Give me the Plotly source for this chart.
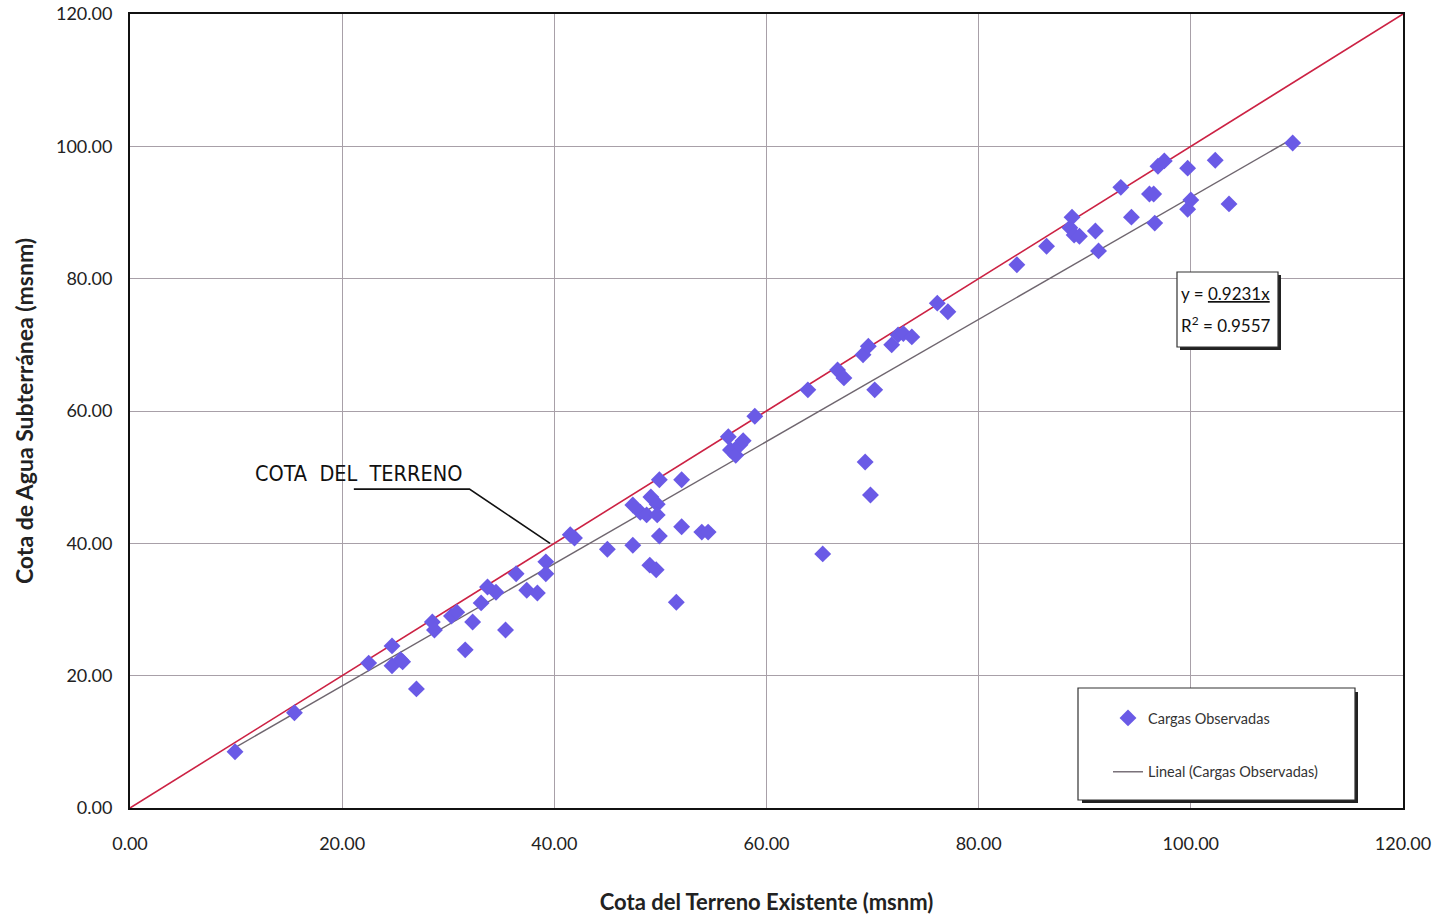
import plotly.graph_objects as go

# ---- data ----
x_terreno = [9.9, 15.5, 22.5, 24.7, 24.7, 25.5, 25.7, 27.0, 28.5, 28.7, 30.3, 30.8,
             31.6, 32.3, 33.1, 33.7, 34.5, 35.4, 36.4, 37.4, 38.4, 39.2, 39.2, 41.5,
             41.9, 45.0, 47.4, 47.4, 48.1, 48.7, 49.1, 49.0, 49.6, 49.7, 49.7, 49.9,
             49.9, 51.5, 52.0, 52.0, 53.9, 54.5, 56.4, 56.6, 57.1, 57.5, 57.8, 58.9,
             63.9, 66.7, 67.3, 69.1, 69.6, 69.3, 69.8, 70.2, 65.3, 71.8, 72.4, 72.9,
             73.7, 76.1, 77.1, 83.6, 86.4, 88.6, 88.8, 89.0, 89.5, 91.0, 91.3, 93.4,
             94.4, 96.1, 96.5, 96.6, 96.9, 97.5, 99.7, 99.7, 100.0, 102.3, 103.6, 109.6]
y_agua = [8.5, 14.4, 21.9, 24.5, 21.5, 22.4, 22.1, 18.0, 28.1, 26.9, 29.0, 29.6,
          23.9, 28.1, 31.0, 33.4, 32.6, 26.9, 35.4, 32.9, 32.5, 37.2, 35.4, 41.3,
          40.8, 39.1, 45.8, 39.7, 44.7, 44.3, 47.0, 36.7, 36.0, 45.9, 44.3, 49.6,
          41.1, 31.1, 49.6, 42.5, 41.7, 41.7, 56.1, 54.1, 53.3, 54.9, 55.5, 59.2,
          63.2, 66.2, 65.0, 68.5, 69.8, 52.3, 47.3, 63.2, 38.4, 70.0, 71.5, 71.7,
          71.2, 76.3, 75.0, 82.1, 84.9, 87.7, 89.3, 86.6, 86.4, 87.2, 84.2, 93.8,
          89.3, 92.8, 92.8, 88.4, 97.0, 97.8, 96.7, 90.5, 91.9, 97.9, 91.3, 100.5]
cota_terreno_x = [0, 120]
cota_terreno_y = [0, 120]
pendiente = 0.9231
r2 = 0.9557
x_ticks = [0, 20, 40, 60, 80, 100, 120]
y_ticks = [0, 20, 40, 60, 80, 100, 120]

trend_x = [min(x_terreno), max(x_terreno)]
trend_y = [pendiente * v for v in trend_x]

FONT = "Lato"
W, H = 1438, 916
ML, MR, MT, MB = 130, 35, 14, 108
PW, PH = W - ML - MR, H - MT - MB


def px(x):
    return (x - ML) / PW


def py(y):
    return (H - MB - y) / PH


fig = go.Figure()
fig.add_trace(go.Scatter(
    x=cota_terreno_x, y=cota_terreno_y, mode="lines",
    line=dict(color="#cc2244", width=1.6), showlegend=False, hoverinfo="skip"))
fig.add_trace(go.Scatter(
    x=trend_x, y=trend_y, mode="lines",
    line=dict(color="#6f666f", width=1.4),
    name="Lineal (Cargas Observadas)", legendgroup="b", legendrank=2))
fig.add_trace(go.Scatter(
    x=x_terreno, y=y_agua, mode="markers",
    marker=dict(symbol="diamond", size=13, color="#6a5ae6"),
    name="Cargas Observadas", legendgroup="a", legendrank=1))

# legend box (shadow + frame)
fig.add_shape(type="rect", xref="paper", yref="paper",
              x0=px(1082), x1=px(1358), y0=py(803), y1=py(692),
              fillcolor="#222", line=dict(width=0), layer="above")
fig.add_shape(type="rect", xref="paper", yref="paper",
              x0=px(1078), x1=px(1355), y0=py(800), y1=py(688),
              fillcolor="white", line=dict(color="#333", width=1.2), layer="above")
# equation box (shadow + frame)
fig.add_shape(type="rect", xref="paper", yref="paper",
              x0=px(1180), x1=px(1281), y0=py(350), y1=py(275),
              fillcolor="#222", line=dict(width=0), layer="above")
fig.add_shape(type="rect", xref="paper", yref="paper",
              x0=px(1177), x1=px(1278), y0=py(347), y1=py(272),
              fillcolor="white", line=dict(color="#333", width=1.2), layer="above")

fig.add_annotation(
    xref="paper", yref="paper", x=px(1179), y=py(293),
    xanchor="left", yanchor="middle", align="left",
    text=f"y = <u>{pendiente:.4f}x</u>",
    font=dict(family=FONT, size=17, color="#111"), showarrow=False)
fig.add_annotation(
    xref="paper", yref="paper", x=px(1179), y=py(324),
    xanchor="left", yanchor="middle", align="left",
    text=f"R<sup>2</sup> = {r2:.4f}",
    font=dict(family=FONT, size=17, color="#111"), showarrow=False)

# COTA DEL TERRENO label with leader
fig.add_annotation(x=(358 - ML) / PW * 120, y=(H - MB - 473) / PH * 120,
                   text="COTA  DEL  TERRENO", showarrow=False,
                   font=dict(family="DejaVu Sans Condensed, DejaVu Sans", size=21.5, color="#111"))
fig.add_shape(type="path", path="M 21.1 48.2 L 32.0 48.2 L 39.6 40.0",
              line=dict(color="#111", width=1.6))

fig.update_layout(
    width=W, height=H,
    margin=dict(l=ML, r=MR, t=MT, b=MB),
    paper_bgcolor="white", plot_bgcolor="white",
    font=dict(family=FONT, size=18, color="#222"),
    showlegend=True,
    legend=dict(
        x=px(1108), y=py(702), xanchor="left", yanchor="top",
        bgcolor="rgba(0,0,0,0)", borderwidth=0,
        font=dict(family=FONT, size=14.5, color="#333"),
        traceorder="grouped", tracegroupgap=32,
        itemwidth=30,
    ),
    xaxis=dict(
        range=[0, 120], tickvals=x_ticks, ticktext=[f"{v:.2f}" for v in x_ticks],
        showgrid=True, gridcolor="#a8a0a8", gridwidth=1, zeroline=False,
        showline=True, mirror=True, linecolor="#111", linewidth=2,
        ticks="outside", ticklen=0, ticklabelstandoff=18, automargin=False,
        title=dict(text="<b>Cota del Terreno Existente (msnm)</b>", standoff=42,
                   font=dict(family=FONT, size=22, color="#222")),
    ),
    yaxis=dict(
        range=[0, 120], tickvals=y_ticks, ticktext=[f"{v:.2f}" for v in y_ticks],
        showgrid=True, gridcolor="#a8a0a8", gridwidth=1, zeroline=False,
        showline=True, mirror=True, linecolor="#111", linewidth=2,
        ticks="outside", ticklen=0, ticklabelstandoff=12, automargin=False,
        title=dict(text="<b>Cota de Agua Subterránea (msnm)</b>", standoff=16,
                   font=dict(family=FONT, size=23, color="#222")),
    ),
)

fig.write_html("out.html", config={"displayModeBar": False},
               post_script="document.body.style.margin='0px';")
